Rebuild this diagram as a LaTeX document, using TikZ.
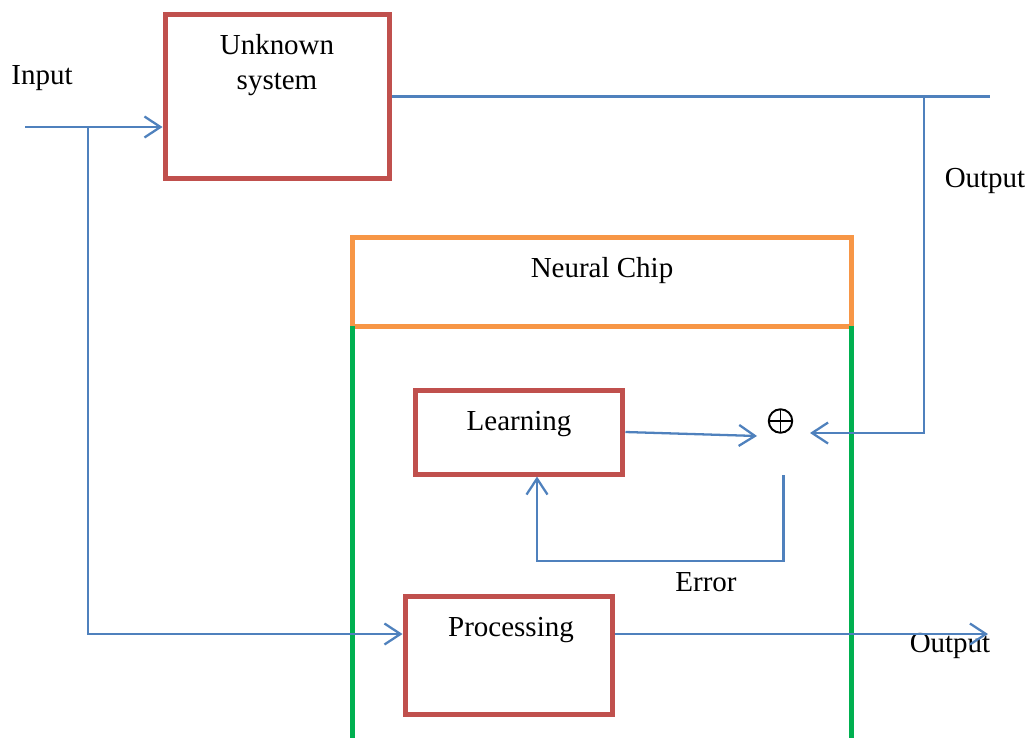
\documentclass[tikz,border=0pt]{standalone}
\usepackage{fontspec}
\setmainfont{Liberation Serif}
\usetikzlibrary{arrows.meta}

\definecolor{boxred}{HTML}{C0504D}
\definecolor{chiporange}{HTML}{F79646}
\definecolor{wallgreen}{HTML}{00B050}
\definecolor{wireblue}{HTML}{4F81BD}

\begin{document}
\begin{tikzpicture}[x=0.02cm, y=-0.02cm]
  % Define styles
  \tikzstyle{block} = [draw=boxred, line width=0.1cm, rectangle]
  \tikzstyle{chipbox} = [draw=chiporange, line width=0.1cm, rectangle, outer sep=0pt, minimum width=10cm, minimum height=1.78cm]
  \tikzstyle{wall} = [draw=wallgreen, line width=0.1cm]
  \tikzstyle{wire} = [draw=wireblue, line width=1.3pt]
  \tikzstyle{arrow} = [wire, -{Straight Barb[length=0.32cm, width=0.42cm]}]
  \tikzstyle{txt} = [font=\fontsize{16.5}{19.9}\selectfont, inner sep=0pt, align=center]
  \tikzstyle{sumnode} = [rectangle, inner sep=0pt, outer sep=0pt, minimum width=1.06cm, minimum height=1.68cm]
  \tikzstyle{oplus} = [circle, draw, line width=1.1pt, inner sep=0pt, minimum size=0.47cm,
    path picture={\draw[line width=1.1pt] (path picture bounding box.north) -- (path picture bounding box.south)
                    (path picture bounding box.west) -- (path picture bounding box.east);}]

  \useasboundingbox (0,0) rectangle (1027,738);

  % Blocks
  \node[block, minimum width=4.5cm, minimum height=3.3cm] (unk) at (277.5,96.5) {};
  \node[block, minimum width=4.16cm, minimum height=1.68cm] (learn) at (519,432) {};
  \node[block, minimum width=4.16cm, minimum height=2.36cm] (proc) at (509,655) {};
  \node[sumnode] (sum) at (783.5,433) {};
  \node[oplus] (sumsym) at (780.5,421) {};
  \node[chipbox] (chip) at (602,281.5) {};

  % Texts
  \node[txt] (unktxt) at (277,65) {Unknown\\system};
  \node[txt] (chiptxt) at (602,271) {Neural Chip};
  \node[txt] (learntxt) at (519,424) {Learning};
  \node[txt] (proctxt) at (511,630) {Processing};
  \node[txt] (intxt) at (42,78) {Input};
  \node[txt] (outtxtA) at (985,181) {Output};
  \node[txt] (outtxtB) at (950,646) {Output};
  \node[txt] (errtxt) at (706,582) {Error};

  % Free ends and taps
  \coordinate (in) at (25,127);
  \coordinate (split) at (88,127);
  \coordinate (outA) at (990,96.5);
  \coordinate (tap) at (924,96.5);
  \coordinate (outB) at (988,634);
  \coordinate (bottom) at (0,738);

  % Chip walls
  \draw[wall] (chip.south west) -- (chip.south west |- bottom);
  \draw[wall] (chip.south east) -- (chip.south east |- bottom);

  % Connections
  \draw[arrow] (in) -- (unk.west |- in);
  \draw[arrow] (split) |- (proc.west |- outB);
  \draw[wire] (unk.east) -- (outA);
  \draw[arrow] (tap) |- (sum.east);
  \draw[arrow] (learn.east) -- ([yshift=-0.06cm]sum.west);
  \draw[arrow] (sum.south) -- ++(0,86) -| ([xshift=0.36cm]learn.south);
  \draw[arrow] (proc.east |- outB) -- (outB);
\end{tikzpicture}
\end{document}
